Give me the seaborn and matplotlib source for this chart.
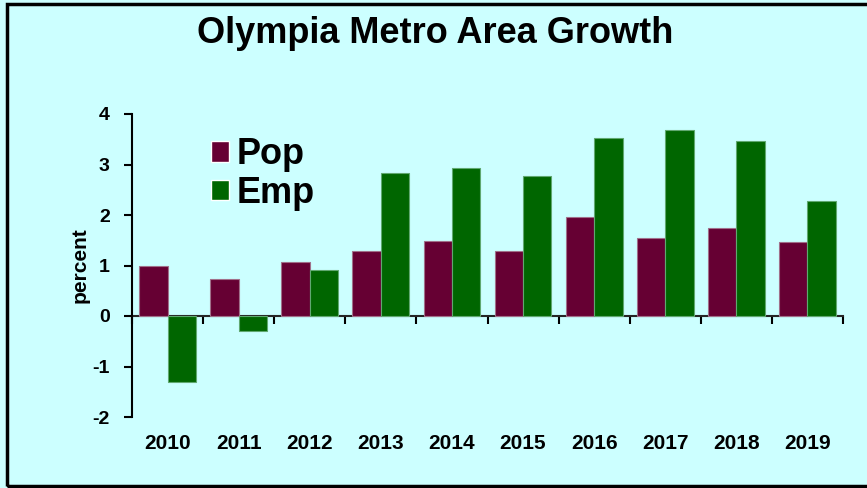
import seaborn as sns
import matplotlib.pyplot as plt
import pandas as pd
from matplotlib.patches import Rectangle

# ---- data ----
years = ['2010', '2011', '2012', '2013', '2014', '2015', '2016', '2017', '2018', '2019']
pop = [0.99, 0.73, 1.06, 1.28, 1.49, 1.29, 1.97, 1.54, 1.74, 1.46]
emp = [-1.30, -0.30, 0.91, 2.83, 2.94, 2.77, 3.52, 3.68, 3.46, 2.28]
series = ['Pop', 'Emp']

df = pd.DataFrame({
    'year': years * 2,
    'value': pop + emp,
    'series': ['Pop'] * len(years) + ['Emp'] * len(years),
})

bg = '#CCFFFF'
colors = {'Pop': '#660033', 'Emp': '#006600'}
edges = {'Pop': '#A0708A', 'Emp': '#60A870'}

sns.set_style('white')
plt.rcParams['font.family'] = ['Liberation Sans', 'DejaVu Sans']
plt.rcParams['font.weight'] = 'bold'
plt.rcParams['text.color'] = 'black'
plt.rcParams['xtick.color'] = 'black'
plt.rcParams['ytick.color'] = 'black'
plt.rcParams['axes.labelcolor'] = 'black'
plt.rcParams['axes.unicode_minus'] = False

fig = plt.figure(figsize=(8.67, 4.88), dpi=100, facecolor=bg)
ax = fig.add_axes([132 / 867, 1 - 417 / 488, (843 - 132) / 867, (417 - 114) / 488])
ax.set_facecolor(bg)

sns.barplot(data=df, x='year', y='value', hue='series', hue_order=series,
            palette=colors, width=0.8, gap=0, saturation=1, ax=ax, legend=True)

# thin lighter outline around bars, like the original
for cont, s in zip(ax.containers, series):
    for bar in cont:
        bar.set_edgecolor(edges[s])
        bar.set_linewidth(0.8)

ax.set_xlim(-0.5, 9.5)
ax.set_ylim(-2, 4)
ax.set_yticks([-2, -1, 0, 1, 2, 3, 4])
ax.tick_params(axis='y', direction='out', length=6, width=1.5, labelsize=14, pad=10, left=True)
ax.tick_params(axis='x', length=0, labelsize=15, pad=12)
ax.set_xlabel('')
ax.set_ylabel('percent', fontsize=15, fontweight='bold', labelpad=2)

for side in ['top', 'right', 'bottom']:
    ax.spines[side].set_visible(False)
ax.spines['left'].set_linewidth(1.5)
ax.spines['left'].set_color('black')

# zero line with category-boundary ticks
zero = ax.secondary_xaxis(1 / 3)
zero.set_xticks([i - 0.5 for i in range(len(years) + 1)], labels=[])
zero.tick_params(direction='out', length=6, width=1.5)
zero.spines['bottom'].set_linewidth(1.5)

# legend
handles, labels = ax.get_legend_handles_labels()
ax.legend(handles, labels, loc='upper left', bbox_to_anchor=(193 / 867, 1 - 119 / 488),
          bbox_transform=fig.transFigure, frameon=False, borderpad=0,
          prop={'size': 26, 'weight': 'bold'}, handlelength=0.5, handleheight=0.5,
          handletextpad=0.2, labelspacing=0.1)

fig.text(0.502, 0.932, 'Olympia Metro Area Growth', ha='center', va='center',
         fontsize=26, fontweight='bold')

# chart frame
fig.patches.append(Rectangle((7 / 867, 1 - 486 / 488), 1.1, (486 - 4) / 488,
                             transform=fig.transFigure, fill=False,
                             edgecolor='black', linewidth=2.5, clip_on=False))

fig.savefig('out.png', dpi=100, facecolor=bg)
